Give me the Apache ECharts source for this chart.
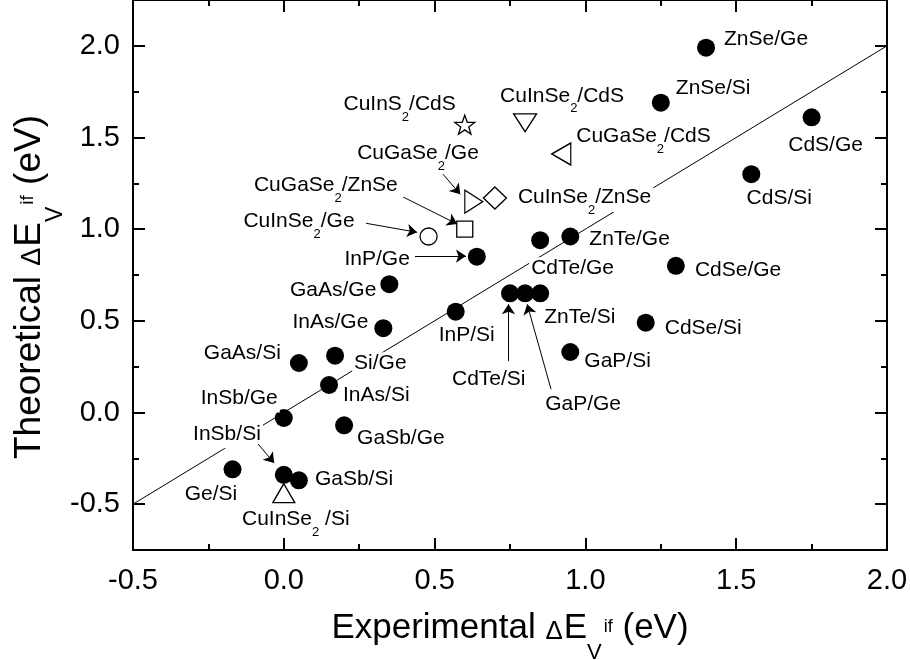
<!DOCTYPE html>
<html>
<head>
<meta charset="utf-8">
<script src="https://cdn.jsdelivr.net/npm/echarts@6/dist/echarts.min.js"></script>
<style>
  html, body { margin: 0; padding: 0; background: #fff; }
  #chart { width: 910px; height: 660px; }
</style>
</head>
<body>
<div id="chart"></div>
<script>
// ---- data -------------------------------------------------------------
// Conventional heterojunctions (filled circles)
const pairNames = ['ZnSe/Ge', 'ZnSe/Si', 'CdS/Ge', 'CdS/Si', 'ZnTe/Ge', 'CdTe/Ge', 'CdSe/Ge',
  'CdTe/Si', 'GaP/Ge', 'ZnTe/Si', 'CdSe/Si', 'GaP/Si', 'InP/Ge', 'InP/Si', 'GaAs/Ge', 'InAs/Ge',
  'GaAs/Si', 'Si/Ge', 'InAs/Si', 'InSb/Ge', 'GaSb/Ge', 'Ge/Si', 'InSb/Si', 'GaSb/Si'];
const pairExp  = [1.40, 1.25, 1.75, 1.55, 0.95, 0.85, 1.30,
  0.75, 0.80, 0.85, 1.20, 0.95, 0.64, 0.57, 0.35, 0.33,
  0.05, 0.17, 0.15, 0.00, 0.20, -0.17, 0.00, 0.05];
const pairTheo = [1.99, 1.69, 1.61, 1.30, 0.96, 0.94, 0.80,
  0.65, 0.65, 0.65, 0.49, 0.33, 0.85, 0.55, 0.70, 0.46,
  0.27, 0.31, 0.15, -0.03, -0.07, -0.31, -0.34, -0.37];

// Chalcopyrite heterojunctions (open symbols)
const cuNames = ['CuInS2/CdS', 'CuInSe2/CdS', 'CuGaSe2/CdS', 'CuGaSe2/Ge',
  'CuInSe2/ZnSe', 'CuGaSe2/ZnSe', 'CuInSe2/Ge', 'CuInSe2 /Si'];
const cuExp  = [0.60, 0.80, 0.92, 0.63, 0.70, 0.60, 0.48, 0.00];
const cuTheo = [1.57, 1.58, 1.41, 1.15, 1.17, 1.00, 0.96, -0.44];
const cuMarkers = ['star', 'triangleDown', 'triangleLeft', 'triangleRight',
  'diamond', 'square', 'circle', 'triangleUp'];

// y = x guide
const guideX = [-0.5, 2.0];
const guideY = [-0.5, 2.0];

// labelled y ticks
const yMajor = [-0.5, 0.0, 0.5, 1.0, 1.5, 2.0];

// pointer arrows: [fromX, fromY, toX, toY] in data units
const pointers = [
  [0.435, 0.853, 0.604, 0.853],
  [0.273, 1.032, 0.442, 0.983],
  [0.396, 1.175, 0.575, 1.028],
  [0.528, 1.300, 0.585, 1.190],
  [0.745, 0.280, 0.745, 0.590],
  [0.886, 0.127, 0.807, 0.590],
  [-0.085, -0.172, -0.032, -0.276]
];

// ---- presentation ----------------------------------------------------
const FONT = "'Liberation Sans', Arial, Helvetica, sans-serif";

// label placement: [align, dx from point centre, dy of text centre]
const labelPlace = {
  'ZnSe/Ge': ['left', 16, -9], 'ZnSe/Si': ['left', 13, -15], 'CdS/Ge': ['center', 14, 27],
  'CdS/Si': ['center', 28, 23.5], 'ZnTe/Ge': ['left', 17, 2], 'CdTe/Ge': ['left', -11, 27.5],
  'CdSe/Ge': ['left', 17, 3], 'ZnTe/Si': ['left', 2, 22.5], 'CdSe/Si': ['left', 17, 5],
  'GaP/Si': ['left', 12, 8], 'GaP/Ge': ['center', 58, 110], 'CdTe/Si': ['left', -60, 85],
  'InP/Si': ['left', -19, 23], 'InP/Ge': ['right', -65, 2], 'GaAs/Ge': ['right', -11, 5],
  'InAs/Ge': ['right', -13, -7], 'GaAs/Si': ['right', -16, -11], 'Si/Ge': ['left', 17, 7],
  'InAs/Si': ['left', 12, 9], 'InSb/Ge': ['right', -4, -21], 'GaSb/Ge': ['left', 11, 12],
  'InSb/Si': ['right', -21, -42], 'Ge/Si': ['center', -21.5, 24], 'GaSb/Si': ['left', 14, -2],
  'CuInS2/CdS': ['right', -7, -21], 'CuInSe2/CdS': ['center', 37, -28],
  'CuGaSe2/CdS': ['left', 13, -19], 'CuGaSe2/Ge': ['right', 7, -49],
  'CuInSe2/ZnSe': ['left', 21, -1.5], 'CuGaSe2/ZnSe': ['right', -65, -45],
  'CuInSe2/Ge': ['right', -72, -16], 'CuInSe2 /Si': ['center', 12, 25]
};

function starPath() {
  const pts = [];
  for (let i = 0; i < 10; i++) {
    const r = i % 2 ? 0.4 : 1;
    const a = -Math.PI / 2 + i * Math.PI / 5;
    pts.push((r * Math.cos(a)).toFixed(4) + ',' + (r * Math.sin(a)).toFixed(4));
  }
  return 'path://M' + pts.join('L') + 'Z';
}

const markerStyle = {
  star:          { symbol: starPath(), symbolSize: [20, 19], symbolRotate: 0 },
  triangleDown:  { symbol: 'triangle', symbolSize: [23, 18], symbolRotate: 180 },
  triangleLeft:  { symbol: 'triangle', symbolSize: [22, 19], symbolRotate: 90 },
  triangleRight: { symbol: 'triangle', symbolSize: [23, 18], symbolRotate: -90 },
  diamond:       { symbol: 'diamond', symbolSize: [23, 22], symbolRotate: 0 },
  square:        { symbol: 'rect', symbolSize: [16, 16], symbolRotate: 0 },
  circle:        { symbol: 'circle', symbolSize: 17, symbolRotate: 0 },
  triangleUp:    { symbol: 'triangle', symbolSize: [22, 19], symbolRotate: 0 }
};

const labelRich = {
  a: { fontSize: 21, lineHeight: 24, verticalAlign: 'top', color: '#000', fontFamily: FONT },
  s: { fontSize: 13, lineHeight: 14, verticalAlign: 'top', padding: [17, 0, 0, 0], color: '#000', fontFamily: FONT }
};

function richName(name) {
  return name.split(/(2)/).filter(p => p !== '').map(p => p === '2' ? '{s|2}' : '{a|' + p + '}').join('');
}

function labelFor(name) {
  const p = labelPlace[name];
  return {
    show: true,
    position: 'inside',
    align: p[0],
    verticalAlign: 'top',
    offset: [p[1], p[2] - 10.5],
    formatter: richName(name),
    rich: labelRich,
    color: '#000',
    opacity: 1,
    backgroundColor: '#fff',
    padding: [1, 2, 1, 2]
  };
}

// axis title styles: main text, delta, subscript V, superscript "if"
function titleRich(size) {
  const k = size / 35;
  return {
    t: { fontSize: size, lineHeight: Math.round(40 * k), verticalAlign: 'top', color: '#000', fontFamily: FONT },
    d: { fontSize: Math.round(26 * k), lineHeight: Math.round(26 * k), verticalAlign: 'top',
         padding: [Math.round(8 * k), 1, 0, 0], color: '#000', fontFamily: FONT },
    v: { fontSize: Math.round(22 * k), lineHeight: Math.round(22 * k), verticalAlign: 'top',
         padding: [Math.round(31 * k), 0, 0, 0], color: '#000', fontFamily: FONT },
    i: { fontSize: Math.round(18 * k), lineHeight: Math.round(18 * k), verticalAlign: 'top',
         padding: [Math.round(7 * k), 0, 0, 2], color: '#000', fontFamily: FONT }
  };
}

const frameLine = { show: true, onZero: false, lineStyle: { color: '#000', width: 2 } };
const tickStyle = { color: '#000', width: 2 };
const gridBox = { left: 133, right: 23, top: 0, bottom: 110, containLabel: false, outerBoundsMode: 'none' };

// Main grid: labelled ticks on the y axes
function yMajorAxis(position, withLabels) {
  return {
    type: 'value', gridIndex: 0, position: position, min: -0.75, max: 2.25, interval: 0.25,
    axisLine: frameLine,
    axisTick: { show: true, inside: true, length: 12, lineStyle: tickStyle, customValues: yMajor },
    splitLine: { show: false },
    axisLabel: withLabels
      ? { show: true, margin: 13, fontSize: 29, color: '#000', fontFamily: FONT,
          customValues: yMajor, formatter: v => v.toFixed(1) }
      : { show: false }
  };
}
// Overlay grid: short ticks halfway between the labelled ones (stepping 0.5 from -0.75)
function yMinorAxis(position) {
  return {
    type: 'value', gridIndex: 1, position: position, min: -0.75, max: 2.25, interval: 0.5,
    axisLine: frameLine,
    axisTick: { show: true, inside: true, length: 6, lineStyle: tickStyle },
    splitLine: { show: false },
    axisLabel: { show: false }
  };
}

const yLeft = yMajorAxis('left', true);
yLeft.name = '{t|Theoretical }{d|Δ}{t|E}{v|V}{i|if}{t| (eV)}';
yLeft.nameLocation = 'middle';
yLeft.nameGap = 80;
yLeft.nameMoveOverlap = false;
yLeft.nameTextStyle = { rich: titleRich(37), padding: [0, 24, 0, 0] };

const chart = echarts.init(document.getElementById('chart'), null, { renderer: 'canvas' });

chart.setOption({
  animation: false,
  backgroundColor: '#fff',
  textStyle: { fontFamily: FONT },
  grid: [Object.assign({}, gridBox), Object.assign({}, gridBox)],
  xAxis: [
    {
      type: 'value', gridIndex: 0, position: 'bottom', min: -0.5, max: 2.0, interval: 0.5,
      axisLine: frameLine,
      axisTick: { show: true, inside: true, length: 12, lineStyle: tickStyle },
      minorTick: { show: true, splitNumber: 2, length: 6, lineStyle: tickStyle },
      splitLine: { show: false }, minorSplitLine: { show: false },
      axisLabel: { show: true, margin: 16, fontSize: 29, color: '#000', fontFamily: FONT,
        formatter: v => v.toFixed(1) },
      name: '{t|Experimental }{d|Δ}{t|E}{v|V}{i|if}{t| (eV)}',
      nameLocation: 'middle', nameGap: 61, nameMoveOverlap: false,
      nameTextStyle: { rich: titleRich(35) }
    },
    {
      type: 'value', gridIndex: 0, position: 'top', min: -0.5, max: 2.0, interval: 0.5,
      axisLine: frameLine,
      axisTick: { show: true, inside: true, length: 12, lineStyle: tickStyle },
      minorTick: { show: true, splitNumber: 2, length: 6, lineStyle: tickStyle },
      splitLine: { show: false }, minorSplitLine: { show: false },
      axisLabel: { show: false }
    },
    {
      type: 'value', gridIndex: 1, position: 'bottom', min: -0.5, max: 2.0, interval: 0.5,
      show: false
    }
  ],
  yAxis: [yLeft, yMajorAxis('right', false), yMinorAxis('left'), yMinorAxis('right')],
  series: [
    {
      name: 'y = x',
      type: 'line',
      z: 1,
      xAxisIndex: 0, yAxisIndex: 0,
      data: guideX.map((x, i) => [x, guideY[i]]),
      showSymbol: false, symbol: 'none',
      lineStyle: { color: '#000', width: 1 },
      silent: true,
      markLine: {
        silent: true,
        symbol: ['none', 'arrow'],
        symbolSize: 10,
        itemStyle: { color: '#000', opacity: 1 },
        lineStyle: { color: '#000', width: 1, type: 'solid', opacity: 1 },
        label: { show: false },
        emphasis: { disabled: true },
        data: pointers.map(p => [{ coord: [p[0], p[1]] }, { coord: [p[2], p[3]] }])
      }
    },
    {
      name: 'conventional',
      type: 'scatter',
      z: 3,
      xAxisIndex: 0, yAxisIndex: 0,
      symbol: 'circle', symbolSize: 18,
      itemStyle: { color: '#000', opacity: 1 },
      data: pairNames.map((n, i) => ({ name: n, value: [pairExp[i], pairTheo[i]], label: labelFor(n) }))
    },
    {
      name: 'chalcopyrite',
      type: 'scatter',
      z: 3,
      xAxisIndex: 0, yAxisIndex: 0,
      itemStyle: { color: '#fff', borderColor: '#000', borderWidth: 1.3, opacity: 1 },
      data: cuNames.map((n, i) => Object.assign({ name: n, value: [cuExp[i], cuTheo[i]], label: labelFor(n) },
        markerStyle[cuMarkers[i]]))
    }
  ]
});
</script>
</body>
</html>
